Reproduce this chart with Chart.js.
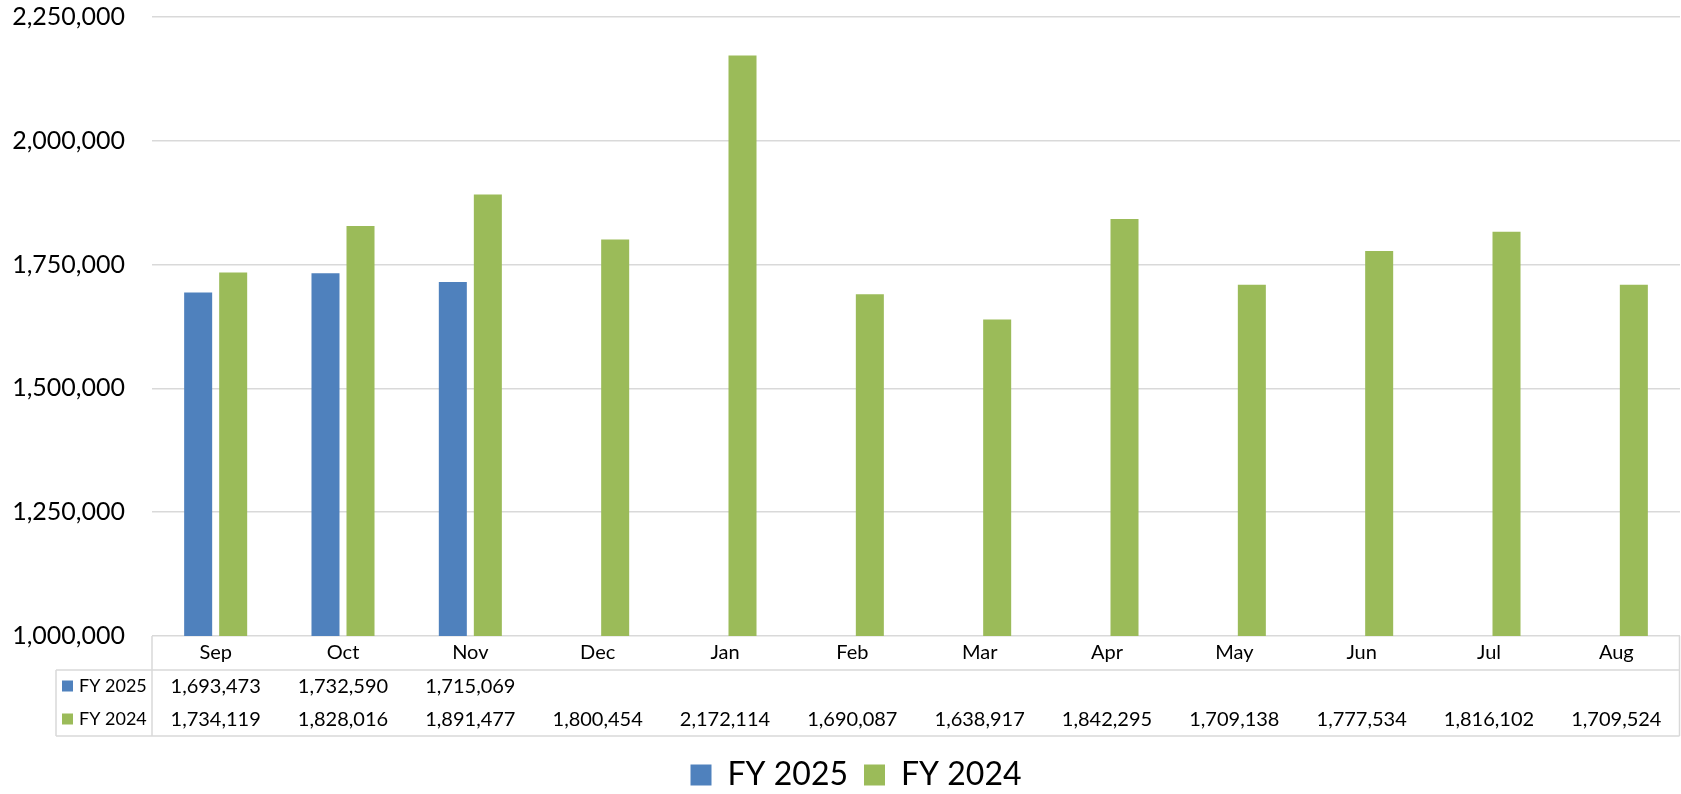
<!DOCTYPE html>
<html>
<head>
<meta charset="utf-8">
<script src="https://cdn.jsdelivr.net/npm/chart.js@4"></script>
<style>
  html, body { margin: 0; padding: 0; background: #fff; }
  #wrap { position: relative; width: 1681px; height: 794px; }
</style>
</head>
<body>
<div id="wrap"><canvas id="cnv"></canvas></div>
<script>
'use strict';
// Monthly totals, fiscal year Sep -> Aug, with an Excel-style data table under the axis.

const months = ['Sep', 'Oct', 'Nov', 'Dec', 'Jan', 'Feb', 'Mar', 'Apr', 'May', 'Jun', 'Jul', 'Aug'];
const fy2025 = [1693473, 1732590, 1715069, null, null, null, null, null, null, null, null, null];
const fy2024 = [1734119, 1828016, 1891477, 1800454, 2172114, 1690087, 1638917, 1842295, 1709138, 1777534, 1816102, 1709524];
const yTicks = [1000000, 1250000, 1500000, 1750000, 2000000, 2250000];

const BLUE = '#4F81BD', GREEN = '#9BBB59', GRID = '#d9d9d9', INK = '#000';
const FONT = 'Lato, "Open Sans", sans-serif';

function fmt(v) { return v == null ? '' : v.toLocaleString('en-US'); }

Chart.defaults.font.family = FONT;
Chart.defaults.color = INK;

// draws the table rows (series key + values) below the month header row
const dataTable = {
  id: 'dataTable',
  afterLayout(chart) {
    // Excel centres the legend a bit right of the canvas middle
    const lg = chart.legend;
    lg.left += 16; lg.right += 16; lg.top += 7; lg.bottom += 7;
  },
  afterDraw(chart) {
    const { ctx, chartArea, scales: { x } } = chart;
    const top = chartArea.bottom, hdr = top + 34, rowH = 33, bottom = hdr + rowH * 2;
    const keyLeft = 56, left = chartArea.left, right = chartArea.right - 0.5;
    ctx.save();
    ctx.strokeStyle = GRID; ctx.lineWidth = 1.5;
    ctx.beginPath();
    ctx.moveTo(left, top); ctx.lineTo(left, bottom);
    ctx.moveTo(right, top); ctx.lineTo(right, bottom);
    ctx.moveTo(keyLeft, hdr); ctx.lineTo(keyLeft, bottom);
    ctx.moveTo(keyLeft, hdr); ctx.lineTo(right, hdr);
    ctx.moveTo(keyLeft, bottom); ctx.lineTo(right, bottom);
    ctx.stroke();
    ctx.textBaseline = 'middle';
    chart.data.datasets.forEach((ds, i) => {
      const y = hdr + rowH * i + rowH / 2;
      ctx.fillStyle = ds.backgroundColor;
      ctx.fillRect(62, y - 6, 11, 11);
      ctx.fillStyle = INK;
      ctx.font = '18px ' + FONT;
      ctx.textAlign = 'left';
      ctx.fillText(ds.label, 79, y);
      ctx.font = '20px ' + FONT;
      ctx.textAlign = 'center';
      ds.data.forEach((v, j) => { if (v != null) ctx.fillText(fmt(v), x.getPixelForValue(j), y); });
    });
    ctx.restore();
  },
};

new Chart(document.getElementById('cnv').getContext('2d'), {
  type: 'bar',
  data: {
    labels: months,
    datasets: [
      { label: 'FY 2025', data: fy2025, backgroundColor: BLUE, barPercentage: 0.8, categoryPercentage: 0.55 },
      { label: 'FY 2024', data: fy2024, backgroundColor: GREEN, barPercentage: 0.8, categoryPercentage: 0.55 },
    ],
  },
  options: {
    responsive: true, maintainAspectRatio: false, animation: false,
    layout: { padding: { top: 17, right: 1, left: 0, bottom: 0 } },
    scales: {
      x: {
        grid: { display: false, drawTicks: false }, border: { display: false },
        ticks: { font: { size: 20 }, padding: 5, maxRotation: 0 },
        afterFit: (s) => { s.height = 100; },
      },
      y: {
        min: yTicks[0], max: yTicks[yTicks.length - 1],
        afterBuildTicks: (s) => { s.ticks = yTicks.map((v) => ({ value: v })); },
        afterFit: (s) => { s.width = 152; s.paddingTop = 0; s.paddingBottom = 0; },
        grid: { color: GRID, lineWidth: 1.5, drawTicks: false },
        border: { display: false },
        ticks: { font: { size: 25 }, padding: 27, callback: (v) => fmt(v) },
      },
    },
    plugins: {
      legend: {
        position: 'bottom',
        labels: { font: { size: 32 }, boxWidth: 21, boxHeight: 21, padding: 16, color: INK },
      },
      tooltip: { enabled: false },
    },
  },
  plugins: [dataTable],
});
</script>
</body>
</html>
